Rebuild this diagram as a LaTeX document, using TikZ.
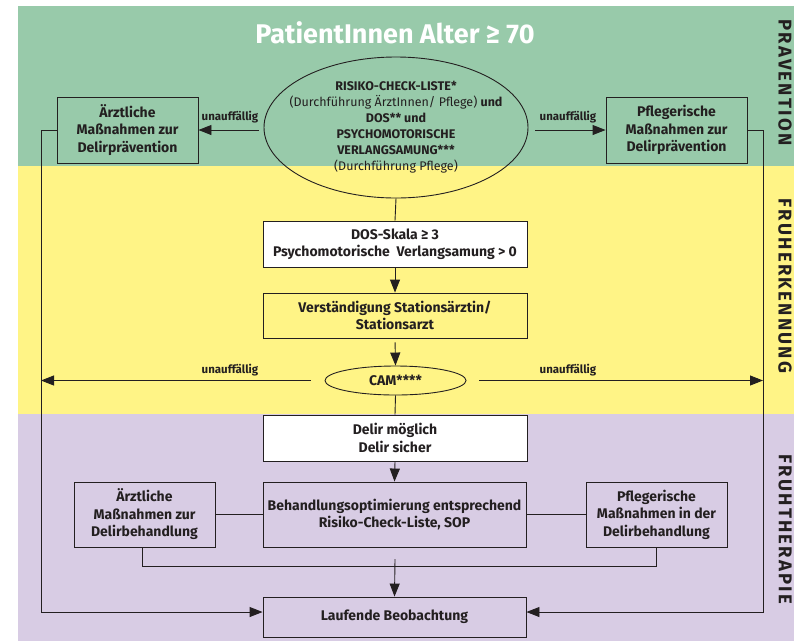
\documentclass[tikz,border=0pt]{standalone}
\usepackage{fontspec}
\setmainfont{Fira Sans}
\usetikzlibrary{shapes.geometric,arrows.meta}
\definecolor{bgG}{RGB}{152,202,170}
\definecolor{bgY}{RGB}{255,244,134}
\definecolor{bgP}{RGB}{216,204,228}
\definecolor{ink}{RGB}{35,31,32}
\newcommand\bxfont{\fontsize{14}{17.5}\selectfont\bfseries}
\newcommand\elfont{\fontsize{12.5}{16}\selectfont}
\newcommand\lbfont{\fontsize{11.5}{14}\selectfont\bfseries}
\newcommand\sdfont{\fontsize{18.5}{20}\selectfont\bfseries\addfontfeature{LetterSpace=12}}
\begin{document}
\begin{tikzpicture}[x=1pt,y=-1pt,line width=0.9pt,draw=ink,text=ink,
  box/.style={draw=ink,rectangle,inner sep=0pt,align=center,font=\bxfont},
  ell/.style={draw=ink,ellipse,inner sep=0pt,align=center},
  arr/.style={-{Triangle[length=13pt,width=10pt]}},
  lab/.style={font=\lbfont,inner sep=0pt},
  side/.style={font=\sdfont,rotate=-90,inner sep=0pt}]
\useasboundingbox (0,0) rectangle (794,641);
\fill[white] (0,0) rectangle (794,641);
\fill[bgG] (18,6) rectangle (794,166);
\fill[bgY] (18,166) rectangle (794,414);
\fill[bgP] (18,414) rectangle (794,641);

\node[font=\fontsize{27}{30}\selectfont\bfseries,text=white,inner sep=0pt] (title) at (395,33) {PatientInnen Alter ≥ 70};

\node[side] (s1) at (785,82.5) {PRAVENTION};
\node[side] (s2) at (785,286) {FRUHERKENNUNG};
\node[side] (s3) at (785,529.5) {FRUHTHERAPIE};

\node[ell,minimum width=264pt,minimum height=141pt] (risk) at (396,127.5) {};
\node[align=center,inner sep=0pt,font=\elfont] (risktxt) at (risk.center)
  {\textbf{RISIKO-CHECK-LISTE*}\\(Durchführung ÄrztInnen/ Pflege) \textbf{und}\\\textbf{DOS** und}\\\textbf{PSYCHOMOTORISCHE}\\\textbf{VERLANGSAMUNG***}\\(Durchführung Pflege)};
\node[box,minimum width=141pt,minimum height=66pt] (aer) at (127.5,130) {Ärztliche\\Maßnahmen zur\\Delirprävention};
\node[box,minimum width=141pt,minimum height=66pt] (pfl) at (676.5,130) {Pflegerische\\Maßnahmen zur\\Delirprävention};

\node[box,fill=white,minimum width=264pt,minimum height=46pt] (dos) at (395,244) {DOS-Skala ≥ 3\\Psychomotorische\ \ Verlangsamung > 0};
\node[box,minimum width=264pt,minimum height=45pt] (verst) at (395,315.5) {Verständigung Stationsärztin/\\Stationsarzt};
\node[ell,minimum width=141pt,minimum height=29pt] (cam) at (395.5,380.5) {};
\node[inner sep=0pt,font=\bxfont] (camtxt) at (cam.center) {CAM****};

\node[box,fill=white,minimum width=264pt,minimum height=46pt] (delir) at (395,438) {Delir möglich\\Delir sicher};
\node[box,minimum width=263pt,minimum height=65pt] (beh) at (394.5,514.5) {Behandlungsoptimierung entsprechend\\Risiko-Check-Liste, SOP};
\node[box,minimum width=141pt,minimum height=65pt] (aerB) at (144.5,514.5) {Ärztliche\\Maßnahmen zur\\Delirbehandlung};
\node[box,minimum width=141pt,minimum height=65pt] (pflB) at (656.5,514.5) {Pflegerische\\Maßnahmen in der\\Delirbehandlung};
\node[box,minimum width=263pt,minimum height=40pt] (lauf) at (394.5,617) {Laufende Beobachtung};

\coordinate (L) at (41,130);
\coordinate (R) at (763,130);
\coordinate (M) at (395,559);

% top arrows
\draw[arr,shorten <=5pt] (risk.west |- aer.east) -- (aer.east);
\draw[arr,shorten <=7pt] (risk.east |- pfl.west) -- (pfl.west);
\node[lab] (u1) at (230,117) {unauffällig};
\node[lab] (u2) at (568,117) {unauffällig};

% side lines
\draw[arr] (aer.west) -- (L) |- ([yshift=5pt]lauf.west);
\draw[arr] (pfl.east) -- (R) |- ([yshift=5pt]lauf.east);

% middle chain
\draw (risk.south) -- (dos.north);
\draw[arr] (dos.south) -- (verst.north);
\draw[arr,shorten <=4pt] (verst.south) -- (cam.north);
\draw[arr,shorten <=14pt] (cam.west) -- (cam.west -| L);
\draw[arr,shorten <=13pt] (cam.east) -- (cam.east -| R);
\node[lab] (u3) at (230,370) {unauffällig};
\node[lab] (u4) at (568,370) {unauffällig};
\draw (cam.south) -- (delir.north);
\draw[arr] (delir.south) -- (beh.north);

% therapy
\draw (aerB.east) -- (beh.west);
\draw (beh.east) -- (pflB.west);
\draw ([xshift=-2.5pt]aerB.south) -- ++(0,19) -| (pflB.south);
\draw[arr] (M) -- (lauf.north);
\end{tikzpicture}
\end{document}
